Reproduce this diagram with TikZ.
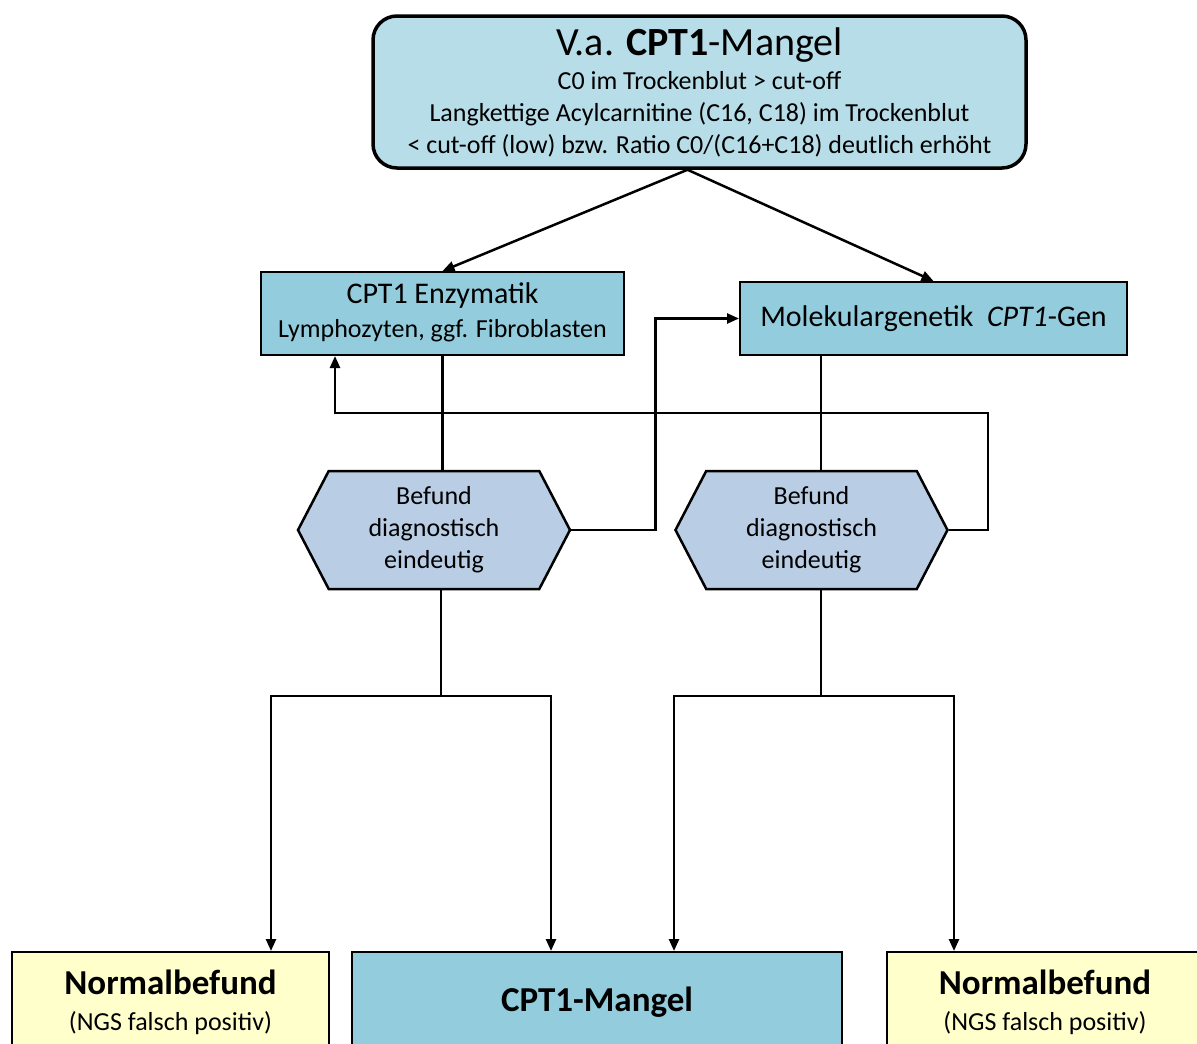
\documentclass[tikz,border=0pt]{standalone}
\usepackage{fontspec}
\setmainfont{Carlito}
\usepackage{tikz}
\usetikzlibrary{arrows.meta,positioning,shapes.symbols}

\definecolor{topblue}{HTML}{B7DDE8}
\definecolor{midblue}{HTML}{93CDDD}
\definecolor{hexblue}{HTML}{B9CDE5}
\definecolor{normyellow}{HTML}{FFFFCC}

\begin{document}
\begin{tikzpicture}[
  x=1pt,y=-1pt,
  topbox/.style={draw, rounded corners=24pt, line width=3.5pt, fill=topblue,
    minimum width=653pt, minimum height=152pt, align=center, inner sep=0pt,
    font=\fontsize{26}{32}\selectfont},
  testbox/.style={draw, line width=2pt, fill=midblue, align=center, inner sep=0pt},
  hexbox/.style={draw, line width=2.5pt, fill=hexblue, shape=signal,
    signal to=west and east, signal pointer angle=125, minimum width=272pt,
    minimum height=118pt, align=center, inner sep=0pt,
    font=\fontsize{26}{32}\selectfont},
  endbox/.style={draw, line width=2pt, minimum height=100pt, align=center,
    inner sep=0pt, font=\fontsize{26}{36}\selectfont},
  line width=2.5pt, >={Triangle[length=12pt,width=10pt]}
]
\useasboundingbox (0,0) rectangle (1197,1044);
\clip (0,0) rectangle (1197,1044);

\node[topbox] (verdacht) at (699.5,92)
  {{\fontsize{40}{40}\selectfont V.a. \textbf{CPT1}-Mangel}\\[2pt]
   C0 im Trockenblut > cut-off\\
   Langkettige Acylcarnitine (C16, C18) im Trockenblut\\
   < cut-off (low) bzw. Ratio C0/(C16+C18) deutlich erhöht};

\node[testbox, minimum width=363pt, minimum height=83pt,
  font=\fontsize{26}{34}\selectfont] (enzym) at (442.5,313.5)
  {{\fontsize{30}{34}\selectfont CPT1 Enzymatik}\\
   Lymphozyten, ggf. Fibroblasten\rule[-6pt]{0pt}{6pt}};
\node[testbox, minimum width=387pt, minimum height=73pt,
  font=\fontsize{30}{31}\selectfont] (molek) at (933.5,318.5)
  {Molekulargenetik\hspace{0.45em}\textit{CPT1}-Gen};

\node[hexbox] (befundL) at (434,530) {Befund\\diagnostisch\\eindeutig};
\node[hexbox] (befundR) at (811.5,530) {Befund\\diagnostisch\\eindeutig};

\node[endbox, fill=normyellow, minimum width=317pt] (normL) at (170.5,1002)
  {{\fontsize{35}{36}\selectfont\bfseries Normalbefund}\\
   (NGS falsch positiv)};
\node[endbox, fill=midblue, minimum width=490pt] (mangel) at (597,1002)
  {\fontsize{35}{36}\selectfont\bfseries CPT1-Mangel};
\node[endbox, fill=normyellow, minimum width=317pt] (normR) at (1045,1002)
  {{\fontsize{35}{36}\selectfont\bfseries Normalbefund}\\
   (NGS falsch positiv)};

\coordinate (gabel) at ([xshift=-12pt]verdacht.south);
\coordinate (splitL) at (441,696);
\coordinate (splitR) at (821,696);
\coordinate (zurueck) at (335,413);

\draw[->] (gabel) -- (enzym.north);
\draw[->] (gabel) -- (molek.north);
\draw (enzym.south) -- (enzym.south |- befundL.north);
\draw (splitR |- molek.south) -- (splitR |- befundR.north);
\draw[->] (befundL.east) -- ++(84,0) |- (molek.west);
\draw[->] (befundR.east) -| (988,413) -- (zurueck) -- (zurueck |- enzym.south);
\draw (splitL |- befundL.south) -- (splitL);
\draw (splitR |- befundR.south) -- (splitR);
\draw[->] (splitL) -| ([xshift=100.5pt]normL.north);
\draw[->] (splitL) -| ([xshift=-46pt]mangel.north);
\draw[->] (splitR) -| ([xshift=77pt]mangel.north);
\draw[->] (splitR) -| ([xshift=-91pt]normR.north);
\end{tikzpicture}
\end{document}
